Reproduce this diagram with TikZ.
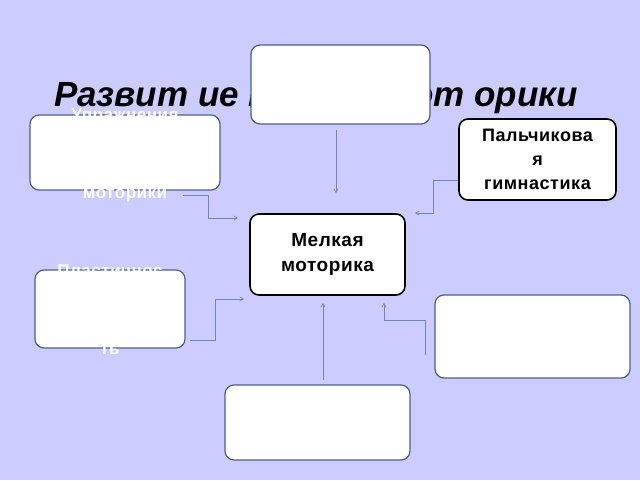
\documentclass[tikz,border=0pt]{standalone}
\usepackage{fontspec}
\setmainfont{Liberation Sans}
\newfontfamily\widefont[LetterSpace=3]{Liberation Sans}
\usetikzlibrary{arrows}
\definecolor{bg}{HTML}{CCCCFF}
\definecolor{edge}{HTML}{4A5F8F}
\definecolor{link}{HTML}{7186B8}
\tikzset{
  box/.style={draw=edge,line width=1.2pt,fill=white,rounded corners=9pt,inner sep=0pt},
  keybox/.style={box,draw=black,line width=1.6pt},
  hidden/.style={text=white,font=\widefont\bfseries\fontsize{17}{26}\selectfont,align=center},
  link/.style={draw=link,line width=0.6pt,->,>=angle 60}
}
\begin{document}
\begin{tikzpicture}[x=1pt,y=-1pt]
  \fill[bg] (0,0) rectangle (640,480);
  \node[font=\bfseries\itshape\fontsize{35}{35}\selectfont] (title) at (316,97) {Развит ие мелкой мот орики};

  \node[box,minimum width=179pt,minimum height=79pt] (top) at (340.5,84.5) {};
  \node[box,minimum width=190pt,minimum height=75pt] (lt) at (125,152.5) {};
  \node[hidden] (ltext) at (125,155) {Упражнения\\для развития\\мелкой\\моторики};
  \node[keybox,minimum width=157pt,minimum height=81pt,align=center,
        font=\widefont\bfseries\fontsize{18}{24}\selectfont] (fing) at (537.5,159.5) {Пальчикова\\я\\гимнастика};
  \node[keybox,minimum width=155pt,minimum height=81pt,align=center,
        font=\widefont\bfseries\fontsize{19}{25}\selectfont] (fine) at (327.5,254.5) {Мелкая\\моторика};
  \node[box,minimum width=150pt,minimum height=78pt] (lb) at (110,309) {};
  \node[hidden] (lbtext) at (110,310) {Пластичнос\\ \\ \\ть};
  \node[box,minimum width=195pt,minimum height=83pt] (rb) at (532.5,336.5) {};
  \node[box,minimum width=185pt,minimum height=75pt] (bot) at (317.5,422.5) {};

  \draw[link] (336,130) -- (336,193);
  \draw[link] (183,195) -- (208,195) -- (208,218) -- (238,218);
  \draw[link] (fing.west |- 0,180) -- (433,180) -- (433,213) -- (415,213);
  \draw[link] (190,340) -- (215,340) -- (215,299) -- (244,299);
  \draw[link] (323,380) -- (323,303);
  \draw[link] (425,355) -- (425,320) -- (384,320) -- (384,303);
\end{tikzpicture}
\end{document}
